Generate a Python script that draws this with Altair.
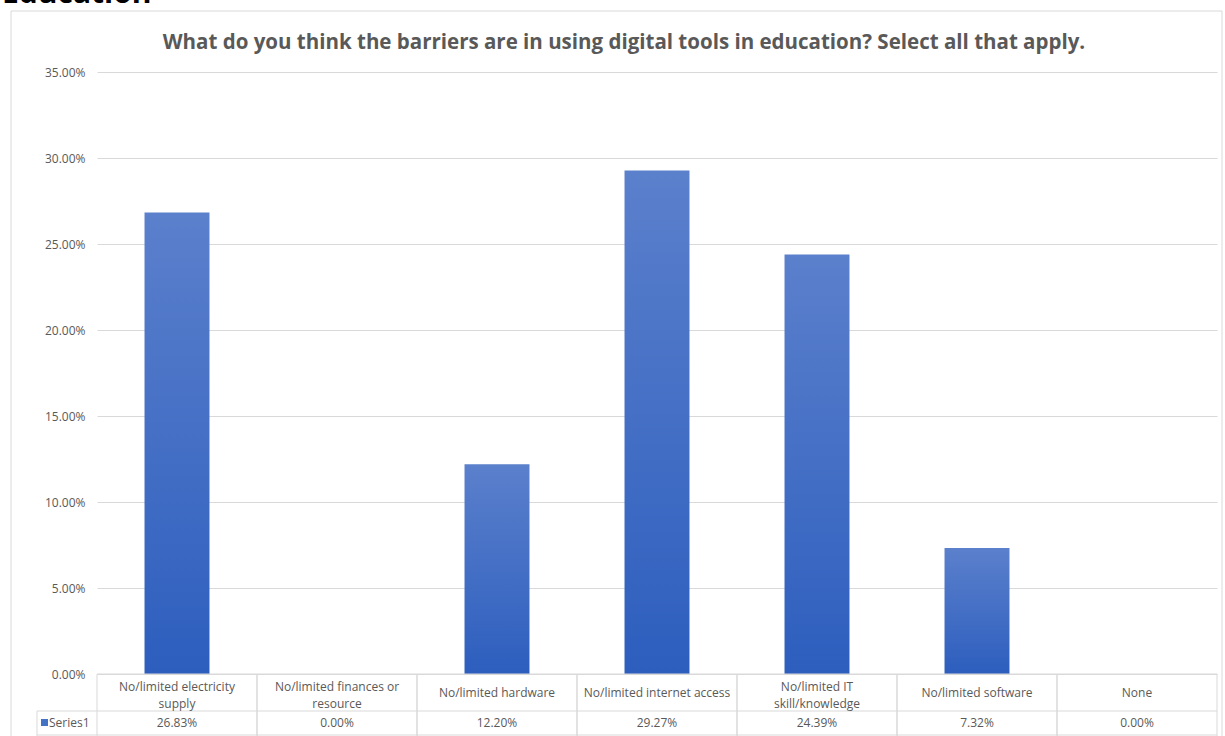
import altair as alt
import pandas as pd

categories = [
    "No/limited electricity supply",
    "No/limited finances or resource",
    "No/limited hardware",
    "No/limited internet access",
    "No/limited IT skill/knowledge",
    "No/limited software",
    "None",
]
header_lines = [
    ["No/limited electricity", "supply"],
    ["No/limited finances or", "resource"],
    ["No/limited hardware"],
    ["No/limited internet access"],
    ["No/limited IT", "skill/knowledge"],
    ["No/limited software"],
    ["None"],
]
values = [0.2683, 0.0, 0.1220, 0.2927, 0.2439, 0.0732, 0.0]
y_ticks = [0, 0.05, 0.10, 0.15, 0.20, 0.25, 0.30, 0.35]
title_text = "What do you think the barriers are in using digital tools in education? Select all that apply."
series_name = "Series1"
page_heading = "Education"

W, H = 1120, 602
FONT = "Open Sans"
GRAY = "#595959"
LINE = "#d9d9d9"
FS = 12

df = pd.DataFrame({"cat": categories, "value": values, "lines": header_lines})
df["nlines"] = [len(l) for l in header_lines]
one = pd.DataFrame({"a": [0]})

xenc = alt.X("cat:N", sort=categories, axis=None,
             scale=alt.Scale(paddingInner=0.594, paddingOuter=0.297))

grad = alt.Gradient(
    gradient="linear",
    stops=[alt.GradientStop(color="#5b80cc", offset=0),
           alt.GradientStop(color="#2d5ebe", offset=1)],
    x1=0, x2=0, y1=0, y2=1,
)

bars = alt.Chart(df).mark_bar(color=grad).encode(
    x=xenc,
    y=alt.Y("value:Q", title=None,
            scale=alt.Scale(domain=[0, 0.35], nice=False),
            axis=alt.Axis(values=y_ticks, format=".2%", grid=True, gridColor=LINE,
                          domain=False, ticks=False, labelPadding=12,
                          labelFont=FONT, labelFontSize=FS, labelColor=GRAY)),
)

header1 = alt.Chart(df).transform_filter("datum.nlines == 1").mark_text(
    font=FONT, fontSize=FS, color=GRAY, baseline="middle").encode(
    x=xenc, y=alt.value(621), text="lines")
header2 = alt.Chart(df).transform_filter("datum.nlines == 2").mark_text(
    font=FONT, fontSize=FS, color=GRAY, baseline="middle", lineHeight=17).encode(
    x=xenc, y=alt.value(614.5), text="lines")

vals = alt.Chart(df).mark_text(font=FONT, fontSize=FS, color=GRAY,
                               baseline="middle").encode(
    x=xenc, y=alt.value(650.5), text=alt.Text("value:Q", format=".2%"))

vleft = alt.Chart(df).mark_rule(color=LINE, xOffset=-80).encode(
    x=xenc, y=alt.value(602), y2=alt.value(664))
vright = alt.Chart(df).mark_rule(color=LINE, xOffset=80).encode(
    x=xenc, y=alt.value(602), y2=alt.value(664))

def hrule(x1, x2, y):
    return alt.Chart(one).mark_rule(color=LINE).encode(
        x=alt.value(x1), x2=alt.value(x2), y=alt.value(y))

def vrule(x, y1, y2):
    return alt.Chart(one).mark_rule(color=LINE).encode(
        x=alt.value(x), y=alt.value(y1), y2=alt.value(y2))

row_sep = hrule(-60, W, 639)
row_bottom = hrule(-60, W, 663)
base_line = hrule(0, W, 602)
legend_left = vrule(-60, 639, 664)
border_top = hrule(-86, 1125, -61)
border_left = vrule(-86, -61, 664)
border_right = vrule(1125, -61, 664)

legend_sq = alt.Chart(one).mark_rect(color="#4472c4").encode(
    x=alt.value(-56), x2=alt.value(-49), y=alt.value(647), y2=alt.value(654))
legend_txt = alt.Chart(one).mark_text(font=FONT, fontSize=FS, color=GRAY,
                                      align="left", baseline="middle").encode(
    x=alt.value(-48), y=alt.value(650.5), text=alt.value(series_name))

title = alt.Chart(one).mark_text(font=FONT, fontSize=20.5, fontWeight="bold",
                                 color=GRAY, align="center", baseline="middle").encode(
    x=alt.value(527), y=alt.value(-29), text=alt.value(title_text))

heading = alt.Chart(one).mark_text(font=FONT, fontSize=30, fontWeight="bold",
                                   color="#000000", align="left",
                                   baseline="alphabetic").encode(
    x=alt.value(-95), y=alt.value(-69), text=alt.value(page_heading))

chart = alt.layer(
    border_top, border_left, border_right, heading, title,
    bars, base_line, vleft, vright, row_sep, row_bottom, legend_left,
    header1, header2, vals, legend_sq, legend_txt,
).properties(
    width=W, height=H,
    autosize=alt.AutoSizeParams(type="none"),
    padding={"left": 97, "top": 72, "right": 8, "bottom": 62},
    background="white",
).configure_view(stroke=None)

chart.save("out.html", embed_options={"renderer": "svg", "actions": False})
